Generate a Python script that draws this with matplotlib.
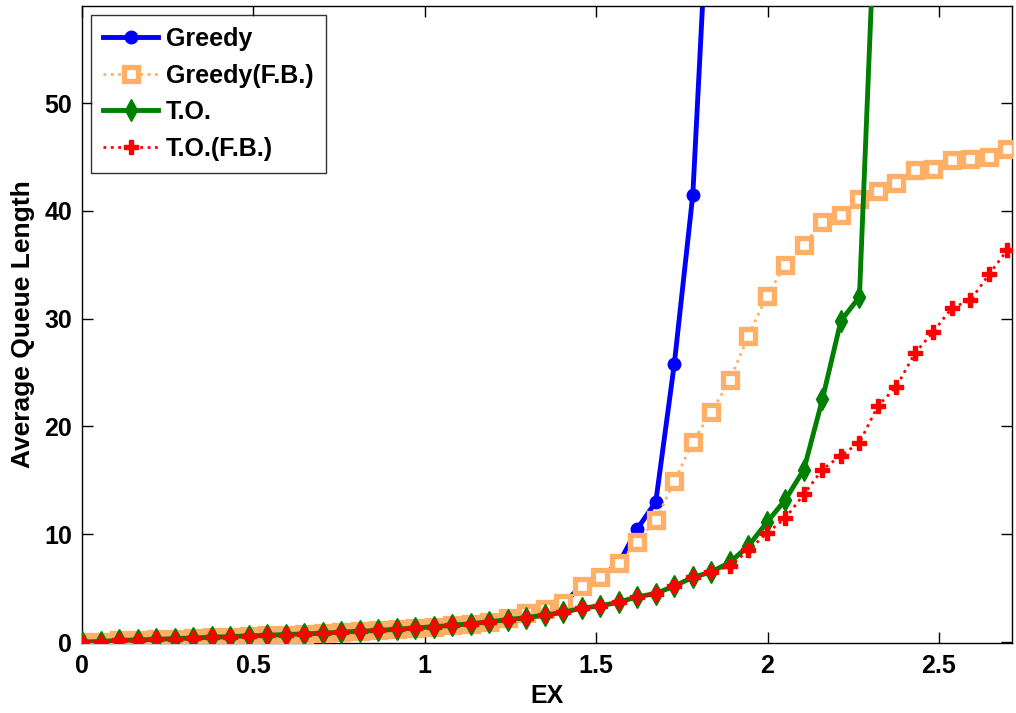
import numpy as np
import matplotlib
matplotlib.use("Agg")
import matplotlib.pyplot as plt

plt.rcParams['font.family'] = ['Liberation Sans', 'DejaVu Sans']
plt.rcParams['font.weight'] = 'bold'

step = 0.054
# common low-load part (k = 0..22)
low = [0, 0.05, 0.15, 0.2, 0.25, 0.32, 0.38, 0.45, 0.5, 0.58, 0.62, 0.7, 0.75,
       0.82, 0.92, 1.0, 1.08, 1.18, 1.3, 1.42, 1.55, 1.7, 1.88]

greedy_fb = low + [2.2, 2.7, 3.1, 3.6, 5.2, 6.0, 7.3, 9.3, 11.3, 14.9, 18.6, 21.3,
                   24.3, 28.4, 32.1, 35.0, 36.8, 39.0, 39.6, 41.1, 41.8, 42.6,
                   43.8, 43.9, 44.7, 44.8, 45.0, 45.7]
greedy = greedy_fb[:30] + [10.5, 13.0, 25.8, 41.5, 75.0]
to = low + [2.08, 2.26, 2.5, 2.75, 3.15, 3.35, 3.7, 4.2, 4.5, 5.2, 6.0, 6.5, 7.4,
            8.9, 11.1, 13.2, 16.0, 22.5, 29.8, 32.0, 74.5]
to_fb = to[:35] + [7.05, 8.5, 10.1, 11.5, 13.7, 16.0, 17.3, 18.5, 21.9, 23.7,
                   26.8, 28.8, 31.0, 31.7, 34.1, 36.4]

def xs(vals):
    return np.arange(len(vals)) * step

fig = plt.figure(figsize=(10.16, 7.13), dpi=100)
ax = fig.add_axes([0.0807, 0.098, 0.9153, 0.8936])

orange = (1.0, 0.69, 0.40)
ax.plot(xs(greedy), greedy, '-', color='#0000ff', lw=3.5, marker='o', ms=9,
        label='Greedy', zorder=2)
ax.plot(xs(greedy_fb), greedy_fb, ':', color=orange, lw=2, marker='s', ms=9.5,
        mfc='white', mec=orange, mew=3.8, label='Greedy(F.B.)', zorder=3)
ax.plot(xs(to), to, '-', color='#007f00', lw=3.5, marker='d', ms=11,
        label='T.O.', zorder=4)
ax.plot(xs(to_fb), to_fb, ':', color='#ff0000', lw=2, marker='P', ms=10,
        label='T.O.(F.B.)', zorder=5)

ax.set_xlim(0, 2.713)
ax.set_ylim(-0.1, 59.0)
ax.set_xticks([0, 0.5, 1, 1.5, 2, 2.5])
ax.set_xticklabels(['0', '0.5', '1', '1.5', '2', '2.5'])
ax.set_yticks([0, 10, 20, 30, 40, 50])
ax.tick_params(direction='in', length=8, width=1, top=True, right=True,
               labelsize=18)
ax.tick_params(axis='x', pad=8)
ax.tick_params(axis='y', pad=7)
for lab in ax.get_xticklabels() + ax.get_yticklabels():
    lab.set_fontweight('bold')
for s in ax.spines.values():
    s.set_linewidth(1)

ax.set_xlabel('EX', fontsize=18, fontweight='bold', labelpad=4)
ax.set_ylabel('Average Queue Length', fontsize=19, fontweight='bold', labelpad=7)

leg = ax.legend(loc='upper left', fontsize=18, handlelength=2.2,
                frameon=True, fancybox=False, edgecolor='black',
                borderaxespad=0.35, labelspacing=0.5, handletextpad=0.3,
                borderpad=0.5)
leg.get_frame().set_linewidth(1)
for t in leg.get_texts():
    t.set_fontweight('bold')

fig.savefig('out.png', dpi=100)
